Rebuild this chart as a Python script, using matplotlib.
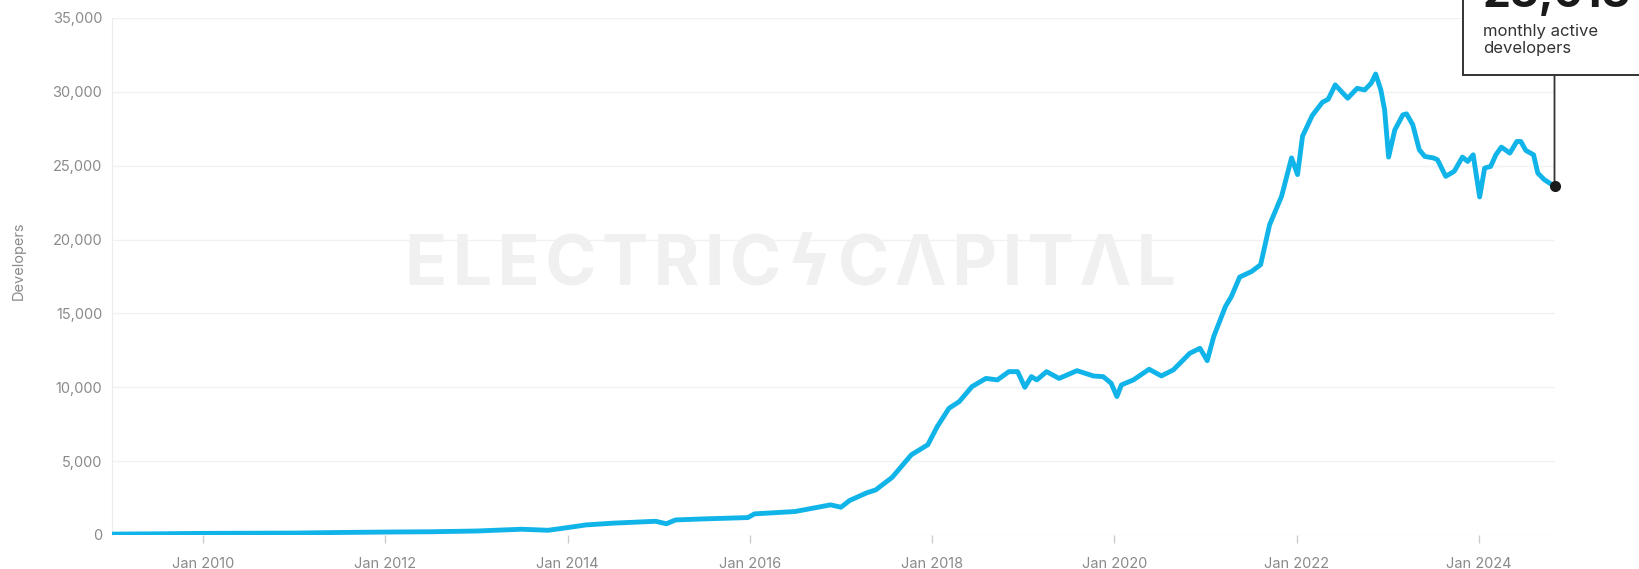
import matplotlib
matplotlib.use("Agg")
import matplotlib.pyplot as plt
from matplotlib.patches import Rectangle
from matplotlib.ticker import StrMethodFormatter
import pandas as pd

plt.rcParams['font.family'] = ['Inter', 'DejaVu Sans']

# monthly active developers
dates = [
    "2009-01-03", "2009-07-01", "2010-01-01", "2010-07-01", "2011-01-01", "2011-07-01",
    "2012-01-01", "2012-07-01", "2013-01-01", "2013-07-01", "2013-10-15", "2014-01-01",
    "2014-03-15", "2014-07-01", "2014-12-20", "2015-02-01", "2015-03-10", "2015-07-01",
    "2015-12-25", "2016-01-20", "2016-07-01", "2016-11-20", "2017-01-01", "2017-02-05",
    "2017-04-15", "2017-05-20", "2017-07-25", "2017-10-10", "2017-12-15", "2018-01-22",
    "2018-03-10", "2018-04-20", "2018-06-10", "2018-08-05", "2018-09-20", "2018-11-05",
    "2018-12-10", "2019-01-08", "2019-02-03", "2019-02-25", "2019-04-05", "2019-05-25",
    "2019-08-05", "2019-10-10", "2019-11-18", "2019-12-20", "2020-01-12", "2020-01-30",
    "2020-03-18", "2020-05-20", "2020-07-08", "2020-08-25", "2020-10-30", "2020-12-10",
    "2021-01-08", "2021-02-03", "2021-03-22", "2021-04-15", "2021-05-18", "2021-07-05",
    "2021-08-10", "2021-09-15", "2021-11-02", "2021-12-12", "2022-01-05", "2022-01-25",
    "2022-03-05", "2022-04-15", "2022-05-08", "2022-06-05", "2022-07-25", "2022-09-01",
    "2022-10-01", "2022-10-27", "2022-11-14", "2022-12-05", "2022-12-20", "2023-01-05",
    "2023-01-30", "2023-03-03", "2023-03-18", "2023-04-12", "2023-05-08", "2023-05-30",
    "2023-07-05", "2023-07-20", "2023-08-22", "2023-09-25", "2023-10-28", "2023-11-18",
    "2023-12-10", "2024-01-05", "2024-01-25", "2024-02-18", "2024-03-10", "2024-04-01",
    "2024-05-05", "2024-06-02", "2024-06-18", "2024-07-08", "2024-08-08", "2024-08-25",
    "2024-09-20", "2024-10-31",
]
developers = [
    60, 80, 110, 120, 130, 170,
    200, 220, 270, 390, 320, 500,
    680, 800, 930, 760, 1020, 1090,
    1180, 1430, 1590, 2040, 1880, 2340,
    2860, 3050, 3900, 5430, 6110, 7345,
    8580, 9030, 10045, 10600, 10500, 11060,
    11060, 10000, 10720, 10500, 11060, 10600,
    11125, 10765, 10720, 10270, 9370, 10160,
    10500, 11220, 10770, 11175, 12300, 12640,
    11800, 13435, 15470, 16150, 17460, 17840,
    18300, 21000, 22930, 25530, 24400, 27000,
    28400, 29300, 29500, 30470, 29570, 30240,
    30130, 30580, 31210, 30130, 28780, 25585,
    27430, 28440, 28510, 27770, 26080, 25630,
    25520, 25400, 24280, 24620, 25585, 25290,
    25740, 22885, 24840, 24950, 25740, 26260,
    25855, 26640, 26640, 26035, 25740, 24500,
    24055, 23613,
]
tick_years = [2010, 2012, 2014, 2016, 2018, 2020, 2022, 2024]
headline = "23,613"
caption = "monthly active\ndevelopers"
watermark = "ELECTRIC\u03DFC\u039bPIT\u039bL"

x = pd.to_datetime(dates)

W, H = 1640, 569
fig = plt.figure(figsize=(W / 100, H / 100), dpi=100)
ax = fig.add_axes([112 / W, 1 - 535 / H, (1555 - 112) / W, (535 - 18) / H])

# watermark, letters spread with hair spaces
ax.text(0.47, 0.52, "\u200a".join(watermark), transform=ax.transAxes,
        ha="center", va="center", fontsize=50, fontweight="bold",
        color="#f0f0f0", zorder=0)

ax.plot(x, developers, color="#10b4e8", lw=3.5, solid_joinstyle="round",
        solid_capstyle="round", zorder=3)
ax.plot(x[-1], developers[-1], "o", color="#1a1a1a", ms=7, zorder=5, clip_on=False)

ax.set_ylim(0, 35000)
ax.set_xlim(pd.Timestamp("2009-01-01"), pd.Timestamp("2024-11-02"))
ax.set_yticks(range(0, 35001, 5000))
ax.yaxis.set_major_formatter(StrMethodFormatter("{x:,.0f}"))
ax.set_xticks([pd.Timestamp(f"{y}-01-01") for y in tick_years])
ax.set_xticklabels([f"Jan {y}" for y in tick_years])

ax.grid(axis="y", color="#f1f1f1", lw=1)
ax.set_axisbelow(True)
for s in ["top", "right", "bottom"]:
    ax.spines[s].set_visible(False)
ax.spines["left"].set_color("#ececec")
ax.tick_params(axis="y", length=0, pad=7, labelsize=10.5, labelcolor="#8a8a8a")
ax.tick_params(axis="x", length=6, width=1, color="#cccccc", pad=10,
               labelsize=10.5, labelcolor="#8a8a8a")

ax.set_ylabel("Developers", fontsize=10.5, color="#8a8a8a")
ax.yaxis.set_label_coords(-0.06, 0.53)

# callout box and connector
box_bottom = 1 - 75 / H
fig.add_artist(Rectangle((1463 / W, box_bottom), 0.3, 0.3, transform=fig.transFigure,
                         facecolor="white", edgecolor="#333333", lw=1.4, zorder=10))
ax.annotate("", xy=(x[-1], developers[-1]), xytext=(x[-1], box_bottom),
            xycoords="data", textcoords=("data", "figure fraction"),
            arrowprops=dict(arrowstyle="-", color="#333333", lw=1.3,
                            shrinkA=0, shrinkB=0),
            annotation_clip=False, zorder=4)
fig.text(1483 / W, 1 - 7 / H, headline, ha="left", va="baseline", fontsize=32,
         fontweight="bold", color="#1a1a1a", zorder=11)
fig.text(1483 / W, 1 - 24 / H, caption, ha="left", va="top", fontsize=12,
         color="#333333", linespacing=1.15, zorder=11)

fig.savefig("out.png", dpi=100)
